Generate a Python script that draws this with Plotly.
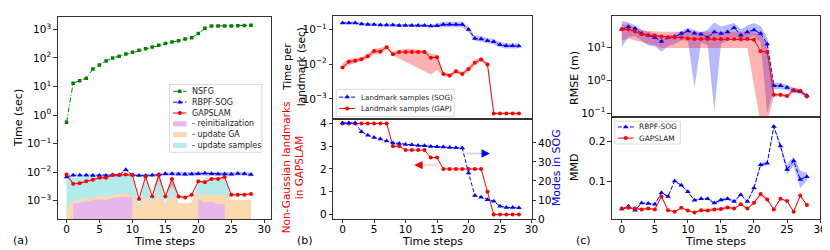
import plotly.graph_objects as go

# ---------------- data ----------------
steps = list(range(29))
x_ticks = [0, 5, 10, 15, 20, 25, 30]

# (a) total run time per step
nsfg_time = [0.56, 13, 16, 19.5, 41, 57, 78, 100, 115, 138, 158, 186, 210, 240, 280, 318,
             360, 400, 458, 510, 710, 1100, 1300, 1300, 1300, 1320, 1330, 1350, 1380]
sog_time = [0.0068, 0.0078, 0.0078, 0.0078, 0.0076, 0.0077, 0.0077, 0.0079, 0.0079, 0.0122,
            0.0079, 0.0077, 0.0077, 0.0078, 0.0082, 0.0087, 0.0087, 0.0086, 0.0085, 0.0086,
            0.0088, 0.0091, 0.0088, 0.0086, 0.0086, 0.0085, 0.0089, 0.0087, 0.0083]
sog_time_lo = [0.0063, 0.0073, 0.0073, 0.0073, 0.0071, 0.0072, 0.0072, 0.0073, 0.0073, 0.0113,
               0.0073, 0.0072, 0.0072, 0.0073, 0.0070, 0.0074, 0.0074, 0.0073, 0.0072, 0.0073,
               0.0075, 0.0077, 0.0075, 0.0073, 0.0073, 0.0072, 0.0076, 0.0074, 0.0071]
sog_time_hi = [0.0073, 0.0083, 0.0083, 0.0083, 0.0081, 0.0082, 0.0082, 0.0085, 0.0085, 0.0131,
               0.0085, 0.0082, 0.0082, 0.0083, 0.0096, 0.0102, 0.0102, 0.0101, 0.0099, 0.0101,
               0.0103, 0.0106, 0.0103, 0.0101, 0.0101, 0.0099, 0.0104, 0.0102, 0.0097]
gap_time = [0.0083, 0.0039, 0.0041, 0.0048, 0.0054, 0.0063, 0.0063, 0.0080, 0.0080, 0.0082,
            0.0080, 0.00115, 0.0070, 0.0014, 0.0080, 0.0014, 0.0058, 0.0014, 0.0013, 0.0016,
            0.0048, 0.0044, 0.0058, 0.0058, 0.0067, 0.0016, 0.0016, 0.0016, 0.0017]
gap_time_lo = [0.0077, 0.0036, 0.0038, 0.0045, 0.0050, 0.0059, 0.0059, 0.0074, 0.0074, 0.0076,
               0.0074, 0.00107, 0.0065, 0.0013, 0.0055, 0.0013, 0.0035, 0.0013, 0.0012, 0.0015,
               0.0045, 0.0041, 0.0054, 0.0054, 0.0062, 0.0015, 0.0015, 0.0015, 0.0016]
gap_time_hi = [0.0089, 0.0042, 0.0044, 0.0051, 0.0058, 0.0067, 0.0067, 0.0086, 0.0086, 0.0088,
               0.0086, 0.00123, 0.0075, 0.0015, 0.0095, 0.0015, 0.0072, 0.0015, 0.0014, 0.0017,
               0.0051, 0.0047, 0.0062, 0.0062, 0.0072, 0.0017, 0.0017, 0.0017, 0.0018]
# (a) GAPSLAM time breakdown (stacked)
t_reinit = [0, 0.0008, 0.00087, 0.00095, 0.00106, 0.00115, 0.00106, 0.00124, 0.00131, 0.00138,
            0.00131, 0, 0, 0, 0, 0, 0, 0, 0, 0, 0.00115, 0.00087, 0.00092, 0.00076, 0.00076,
            0, 0, 0, 0]
t_update_ga = [0.00058, 0.0002, 0.00019, 0.00026, 0.00025, 0.00031, 0.00025, 0.00034, 0.00041,
               0.00043, 0.00019, 0.00062, 0.0015, 0.00076, 0.00172, 0.00072, 0.00163, 0.0008,
               0.0008, 0.00087, 0.00066, 0.00076, 0.00071, 0.00087, 0.00087, 0.00106, 0.00106,
               0.00106, 0.00106]
t_update_samples = [0.0064, 0.0053, 0.0055, 0.0056, 0.0057, 0.0057, 0.0059, 0.0059, 0.0059,
                    0.0058, 0.0061, 0.00005, 0.0055, 0.00011, 0.0063, 0.00006, 0.0047, 0.00002,
                    0, 0, 0.0026, 0.0042, 0.0050, 0.0050, 0.0054, 0, 0, 0, 0]

# (b) time per landmark
lm_sog = [0.154, 0.154, 0.154, 0.144, 0.138, 0.138, 0.134, 0.134, 0.134, 0.13, 0.13, 0.13, 0.13,
          0.13, 0.125, 0.127, 0.138, 0.138, 0.138, 0.138, 0.1, 0.055, 0.053, 0.047, 0.044,
          0.036, 0.034, 0.034, 0.033]
lm_sog_lo = [0.142, 0.142, 0.142, 0.132, 0.127, 0.127, 0.123, 0.123, 0.123, 0.12, 0.12, 0.12,
             0.12, 0.12, 0.115, 0.112, 0.115, 0.115, 0.115, 0.115, 0.083, 0.046, 0.044, 0.039,
             0.037, 0.030, 0.028, 0.028, 0.028]
lm_sog_hi = [0.166, 0.166, 0.166, 0.156, 0.149, 0.149, 0.145, 0.145, 0.145, 0.14, 0.14, 0.14,
             0.14, 0.14, 0.135, 0.15, 0.165, 0.165, 0.165, 0.165, 0.12, 0.066, 0.064, 0.056,
             0.052, 0.043, 0.040, 0.040, 0.039]
lm_gap = [0.008, 0.0117, 0.0125, 0.0139, 0.0168, 0.0238, 0.0232, 0.0308, 0.0192, 0.0224, 0.0224,
          0.0224, 0.0224, 0.0224, 0.0152, 0.0158, 0.0052, 0.0047, 0.0062, 0.0052, 0.0072, 0.011,
          0.0136, 0.0098, 0.00038, 0.00038, 0.00038, 0.00038, 0.00038]
lm_gap_lo = [0.0072, 0.0093, 0.0105, 0.012, 0.0145, 0.0188, 0.0188, 0.0276, 0.0176, 0.0145,
             0.0117, 0.0094, 0.0076, 0.0062, 0.005, 0.0068, 0.0046, 0.004, 0.0055, 0.0046,
             0.0059, 0.0093, 0.012, 0.0087, 0.00036, 0.00036, 0.00036, 0.00036, 0.00036]
lm_gap_hi = [0.0105, 0.0145, 0.0145, 0.016, 0.02, 0.0276, 0.0294, 0.0335, 0.0228, 0.0259,
             0.0276, 0.0276, 0.0259, 0.0259, 0.02, 0.0188, 0.0059, 0.0052, 0.0072, 0.0059,
             0.0087, 0.0136, 0.0155, 0.0112, 0.0004, 0.0004, 0.0004, 0.0004, 0.0004]

# (b) counts
non_gaussian = [4, 4, 4, 4, 4, 4, 4, 4, 3, 3, 2.83, 2.83, 2.83, 2.83, 2.5, 2.5, 2, 2, 2, 2, 2,
                2, 2, 1, 0, 0, 0, 0, 0]
sog_modes = [50.5, 50.5, 50.5, 45.9, 44, 42.9, 42, 41, 40, 39.7, 39.2, 39, 38.6, 38.5, 38.1, 38,
             37.8, 37.6, 37.5, 37.3, 24.2, 12.4, 11.5, 10.2, 9.3, 6.8, 6.1, 6.1, 5.9]

# (c) RMSE
rmse_sog = [36.4, 43.7, 39.0, 27.1, 24.2, 20.6, 15.4, 20.6, 21.6, 27.1, 32.5, 27.7, 25.9, 20.6,
            30.4, 27.1, 30.4, 40.8, 24.2, 30.4, 34.8, 27.1, 13.1, 0.687, 0.687, 0.614, 0.49,
            0.457, 0.348]
rmse_sog_lo = [10.5, 20.6, 23, 16.5, 11.7, 11.2, 7.5, 11.2, 13, 16.5, 16.5, 0.61, 14.7, 11.7,
               0.11, 13, 16.5, 23, 14.7, 19, 23, 14.7, 0.1, 0.55, 0.55, 0.51, 0.41, 0.39, 0.3]
rmse_sog_hi = [64, 60, 48, 35, 30, 27.8, 22, 24, 26, 32.5, 40, 35, 29, 36, 60, 44, 51, 57, 36,
               48, 57, 46, 20.6, 0.86, 0.86, 0.73, 0.61, 0.55, 0.37]
rmse_gap = [36.4, 36.4, 31.1, 25.9, 24.2, 23.2, 22.1, 20.6, 20.6, 20.6, 19.3, 18.4, 18.4, 18.4,
            18.4, 18.4, 18.4, 18.4, 18.4, 18.4, 17.6, 7.8, 7.4, 0.366, 0.366, 0.334, 0.51, 0.49,
            0.325]
rmse_gap_lo = [16.5, 19.3, 16.5, 14.7, 13.1, 11.7, 9.8, 9.8, 9.8, 9.8, 9.8, 9.8, 9.8, 9.8, 9.8,
               9.8, 9.8, 9.8, 9.8, 9.8, 0.77, 0.05, 0.05, 0.325, 0.325, 0.297, 0.44, 0.42, 0.297]
rmse_gap_hi = [51, 51, 40.8, 34.8, 32.5, 31, 31, 31, 31, 31, 31, 31, 31, 31, 31, 31, 31, 31, 31,
               31, 29, 25.9, 11.7, 0.41, 0.41, 0.37, 0.57, 0.55, 0.366]

# (c) MMD
mmd_sog = [0.0287, 0.036, 0.026, 0.044, 0.043, 0.041, 0.07, 0.061, 0.1, 0.089, 0.073, 0.051,
           0.055, 0.055, 0.044, 0.052, 0.055, 0.048, 0.065, 0.048, 0.082, 0.141, 0.145, 0.238,
           0.189, 0.129, 0.151, 0.104, 0.111]
mmd_sog_err = [0.002, 0.002, 0.002, 0.002, 0.002, 0.002, 0.002, 0.002, 0.002, 0.002, 0.002,
               0.002, 0.002, 0.002, 0.002, 0.004, 0.004, 0.004, 0.002, 0.002, 0.004, 0.005,
               0.005, 0.005, 0.006, 0.012, 0.012, 0.022, 0.01]
mmd_gap = [0.030, 0.032, 0.030, 0.028, 0.030, 0.028, 0.061, 0.026, 0.022, 0.032, 0.025, 0.020,
           0.026, 0.025, 0.028, 0.029, 0.033, 0.030, 0.041, 0.030, 0.045, 0.067, 0.053, 0.028,
           0.055, 0.049, 0.022, 0.063, 0.039]
mmd_gap_err = [0.002, 0.002, 0.002, 0.002, 0.002, 0.002, 0.003, 0.002, 0.002, 0.002, 0.002,
               0.002, 0.004, 0.004, 0.004, 0.004, 0.004, 0.002, 0.002, 0.002, 0.003, 0.005,
               0.005, 0.002, 0.002, 0.002, 0.002, 0.002, 0.002]

# ---------------- style ----------------
FONT = "DejaVu Sans"
BLUE, RED, GREEN = "#0000ff", "#ff0000", "#008000"
C_REINIT, C_GA, C_SAMPLES = "#e7b6ec", "#fdd9b0", "#b3ebeb"
DASH = "4px,2px"
DASHDOT = "5px,2px,1px,2px"
W, H = 830, 250
TICK_FS = 10.5

fig = go.Figure()


def px_x(p):
    return p / W


def px_y(p):
    return 1 - p / H


def band(x, lo, hi, color, xa, ya):
    xs = list(x) + list(x)[::-1]
    ys = list(hi) + list(lo)[::-1]
    fig.add_trace(go.Scatter(x=xs, y=ys, fill="toself", fillcolor=color, mode="lines",
                             line=dict(width=0), hoverinfo="skip", showlegend=False,
                             xaxis=xa, yaxis=ya))


def line(x, y, color, dash, symbol, size, xa, ya):
    fig.add_trace(go.Scatter(x=x, y=y, mode="lines+markers",
                             line=dict(color=color, width=1, dash=dash),
                             marker=dict(symbol=symbol, size=size, color=color, line=dict(width=0)),
                             showlegend=False, xaxis=xa, yaxis=ya))


def area(x, top, floor, color, xa, ya):
    xs = [x[0]] + list(x) + [x[-1]]
    ys = [floor] + list(top) + [floor]
    fig.add_trace(go.Scatter(x=xs, y=ys, fill="toself", fillcolor=color, mode="lines",
                             line=dict(width=0), hoverinfo="skip", showlegend=False,
                             xaxis=xa, yaxis=ya))


# ---------------- (a) ----------------
FLOOR = 1e-6
cum_reinit = list(t_reinit)
cum_ga = [a + b for a, b in zip(cum_reinit, t_update_ga)]
cum_samples = [a + b for a, b in zip(cum_ga, t_update_samples)]
area(steps, cum_samples, FLOOR, C_SAMPLES, "x", "y")
area(steps, cum_ga, FLOOR, C_GA, "x", "y")
run = []
for i, v in enumerate(cum_reinit + [0]):
    if v > 0:
        run.append(i)
    elif run:
        area([steps[j] for j in run], [cum_reinit[j] for j in run], FLOOR, C_REINIT, "x", "y")
        run = []

band(steps, gap_time_lo, gap_time_hi, "rgba(255,0,0,0.3)", "x", "y")
band(steps, sog_time_lo, sog_time_hi, "rgba(0,0,255,0.2)", "x", "y")
line(steps, nsfg_time, GREEN, DASHDOT, "square", 3.5, "x", "y")
line(steps, sog_time, BLUE, DASH, "triangle-up", 5, "x", "y")
line(steps, gap_time, RED, "solid", "circle", 4, "x", "y")

# ---------------- (b) top ----------------
band(steps, lm_sog_lo, lm_sog_hi, "rgba(0,0,255,0.25)", "x2", "y2")
line(steps, lm_sog, BLUE, DASH, "triangle-up", 5, "x2", "y2")
band(steps, lm_gap_lo, lm_gap_hi, "rgba(255,0,0,0.3)", "x2", "y2")
line(steps, lm_gap, RED, "solid", "circle", 4, "x2", "y2")

# ---------------- (b) bottom ----------------
line(steps, sog_modes, BLUE, DASH, "triangle-up", 5, "x3", "y4")
line(steps, non_gaussian, RED, "solid", "circle", 4, "x3", "y3")

# ---------------- (c) top ----------------
band(steps, rmse_sog_lo, rmse_sog_hi, "rgba(0,0,255,0.28)", "x5", "y5")
band(steps, rmse_gap_lo, rmse_gap_hi, "rgba(255,0,0,0.3)", "x5", "y5")
line(steps, rmse_sog, BLUE, DASH, "triangle-up", 5, "x5", "y5")
line(steps, rmse_gap, RED, "solid", "circle", 4, "x5", "y5")

# ---------------- (c) bottom ----------------
band(steps, [v - e for v, e in zip(mmd_sog, mmd_sog_err)],
     [v + e for v, e in zip(mmd_sog, mmd_sog_err)], "rgba(0,0,255,0.28)", "x6", "y6")
band(steps, [v - e for v, e in zip(mmd_gap, mmd_gap_err)],
     [v + e for v, e in zip(mmd_gap, mmd_gap_err)], "rgba(255,0,0,0.25)", "x6", "y6")
line(steps, mmd_sog, BLUE, DASH, "triangle-up", 5, "x6", "y6")
line(steps, mmd_gap, RED, "solid", "circle", 4, "x6", "y6")

# ---------------- manual legends (overlay axis in pixel units) ----------------
annotations = []


def leg_box(x0, y0, x1, y1):
    fig.add_trace(go.Scatter(x=[x0, x1, x1, x0, x0], y=[y0, y0, y1, y1, y0], fill="toself",
                             fillcolor="rgba(255,255,255,0.85)", mode="lines",
                             line=dict(color="#cfcfcf", width=0.8), hoverinfo="skip",
                             showlegend=False, xaxis="x7", yaxis="y7"))


def leg_line(x0, x1, y, color, dash, symbol, size, label, fsize):
    fig.add_trace(go.Scatter(x=[x0, x1], y=[y, y], mode="lines",
                             line=dict(color=color, width=1, dash=dash), hoverinfo="skip",
                             showlegend=False, xaxis="x7", yaxis="y7"))
    fig.add_trace(go.Scatter(x=[(x0 + x1) / 2], y=[y], mode="markers",
                             marker=dict(symbol=symbol, size=size, color=color, line=dict(width=0)),
                             hoverinfo="skip", showlegend=False, xaxis="x7", yaxis="y7"))
    annotations.append(dict(x=x1 + 3.5, y=y, xref="x7", yref="y7", text=label, showarrow=False,
                            xanchor="left", yanchor="middle",
                            font=dict(family=FONT, size=fsize, color="#222")))


def leg_patch(x0, x1, y, color, label, fsize):
    fig.add_trace(go.Scatter(x=[x0, x1, x1, x0, x0], y=[y - 2.6, y - 2.6, y + 2.6, y + 2.6, y - 2.6],
                             fill="toself", fillcolor=color, mode="lines", line=dict(width=0),
                             hoverinfo="skip", showlegend=False, xaxis="x7", yaxis="y7"))
    annotations.append(dict(x=x1 + 3.5, y=y, xref="x7", yref="y7", text=label, showarrow=False,
                            xanchor="left", yanchor="middle",
                            font=dict(family=FONT, size=fsize, color="#222")))


leg_box(163, 77, 256, 147)
leg_line(166.5, 180, 84, GREEN, DASHDOT, "square", 3.5, "NSFG", 8)
leg_line(166.5, 180, 95.2, BLUE, DASH, "triangle-up", 5, "RBPF-SOG", 8)
leg_line(166.5, 180, 106.4, RED, "solid", "circle", 4, "GAPSLAM", 8)
leg_patch(166.5, 180, 117.6, C_REINIT, "- reinitialization", 8)
leg_patch(166.5, 180, 128.8, C_GA, "- update GA", 8)
leg_patch(166.5, 180, 140, C_SAMPLES, "- update samples", 8)

leg_box(331, 82, 450, 110)
leg_line(334, 350, 90, BLUE, DASH, "triangle-up", 5, "Landmark samples (SOG)", 7.2)
leg_line(334, 350, 101.7, RED, "solid", "circle", 4, "Landmark samples (GAP)", 7.2)

leg_box(612, 115, 678, 138.5)
leg_line(615, 631, 120.8, BLUE, DASH, "triangle-up", 5, "RBPF-SOG", 7.4)
leg_line(615, 631, 132.3, RED, "solid", "circle", 4, "GAPSLAM", 7.4)

# ---------------- text ----------------
def txt(x, y, s, color="black", angle=0, size=11):
    annotations.append(dict(x=px_x(x), y=px_y(y), xref="paper", yref="paper", text=s,
                            showarrow=False, textangle=angle, xanchor="center", yanchor="middle",
                            font=dict(family=FONT, size=size, color=color)))


txt(11, 111, "Time (sec)", angle=-90)
txt(288.5, 59, "Time per<br>landmark (sec)", angle=-90, size=10.5)
txt(287, 163, "Non-Gaussian landmarks<br>in GAPSLAM", color=RED, angle=-90, size=10.5)
txt(553, 163, "Modes in SOG", color=BLUE, angle=-90)
txt(572, 70, "RMSE (m)", angle=-90)
txt(572, 163, "MMD", angle=-90)
for cx in (157.5, 428, 714):
    txt(cx, 239, "Time steps")
txt(13, 238, "(a)")
txt(300, 238, "(b)")
txt(580, 238, "(c)")

# arrows in (b) bottom
annotations.append(dict(x=23.4, y=34.4, ax=22.5, ay=34.4, xref="x3", yref="y4", axref="x3",
                        ayref="y4", text="", showarrow=True, arrowhead=2, arrowsize=1.3,
                        arrowwidth=1.3, arrowcolor=BLUE))
annotations.append(dict(x=11.37, y=2.17, ax=12.3, ay=2.17, xref="x3", yref="y3", axref="x3",
                        ayref="y3", text="", showarrow=True, arrowhead=2, arrowsize=1.3,
                        arrowwidth=1.3, arrowcolor=RED))
shapes = [
    dict(type="line", xref="x3", yref="y4", x0=19.7, x1=22.6, y0=34.4, y1=34.4,
         line=dict(color="rgba(90,130,255,0.35)", width=1.5)),
    dict(type="line", xref="x3", yref="y3", x0=15.0, x1=12.2, y0=2.17, y1=2.17,
         line=dict(color="rgba(255,90,90,0.3)", width=1.5)),
]

# ---------------- axes ----------------
def axis(**kw):
    base = dict(showline=True, linecolor="#333", linewidth=0.8, mirror=True, ticks="outside",
                ticklen=3.5, tickwidth=0.8, tickcolor="#333", showgrid=False, zeroline=False,
                tickfont=dict(family=FONT, size=TICK_FS, color="black"))
    base.update(kw)
    return base


def log_ticks(lo, hi):
    vals, texts = [], []
    for e in range(lo, hi + 1):
        vals.append(10.0 ** e)
        texts.append("10<sup>" + (str(e) if e >= 0 else "\u2212" + str(-e)) + "</sup>")
    return vals, texts


tv_a, tt_a = log_ticks(-3, 3)
tv_b, tt_b = log_ticks(-3, -1)
tv_c, tt_c = log_ticks(-1, 1)

xdom_a = [px_x(50), px_x(265)]
xdom_b = [px_x(328), px_x(528)]
xdom_c = [px_x(609), px_x(819)]

fig.update_layout(
    width=W, height=H, margin=dict(l=0, r=0, t=0, b=0),
    paper_bgcolor="white", plot_bgcolor="rgba(0,0,0,0)",
    font=dict(family=FONT, size=11, color="black"),
    showlegend=False,
    xaxis=axis(domain=xdom_a, range=[-1.36, 31.0], anchor="y", tickvals=x_ticks,
               ticklabelstandoff=-3),
    yaxis=axis(domain=[px_y(216), px_y(7)], type="log", range=[-3.644, 3.44], anchor="x",
               tickvals=tv_a, ticktext=tt_a),
    xaxis2=axis(domain=xdom_b, range=[-1.48, 30.0], anchor="y2", ticks="",
                showticklabels=False),
    yaxis2=axis(domain=[px_y(112.5), px_y(6)], type="log", range=[-3.578, -0.609], anchor="x2",
                tickvals=tv_b, ticktext=tt_b),
    xaxis3=axis(domain=xdom_b, range=[-1.48, 30.0], anchor="y3", tickvals=x_ticks,
                ticklabelstandoff=-3),
    yaxis3=axis(domain=[px_y(216), px_y(112.5)], range=[-0.2, 4.2], anchor="x3",
                tickvals=[0, 1, 2, 3, 4]),
    yaxis4=axis(overlaying="y3", side="right", range=[0, 52.6], anchor="x3", mirror=False,
                tickvals=[0, 10, 20, 30, 40]),
    xaxis5=axis(domain=xdom_c, range=[-1.5, 30.0], anchor="y5", ticks="",
                showticklabels=False),
    yaxis5=axis(domain=[px_y(110.7), px_y(6)], type="log", range=[-1.12, 1.975], anchor="x5",
                tickvals=tv_c, ticktext=tt_c),
    xaxis6=axis(domain=xdom_c, range=[-1.5, 30.0], anchor="y6", tickvals=x_ticks,
                ticklabelstandoff=-3),
    yaxis6=axis(domain=[px_y(216), px_y(110.7)], range=[0.0034, 0.262], anchor="x6",
                tickvals=[0.1, 0.2]),
    xaxis7=dict(domain=[0, 1], range=[0, W], visible=False, fixedrange=True, anchor="y7"),
    yaxis7=dict(domain=[0, 1], range=[H, 0], visible=False, fixedrange=True, anchor="x7"),
    annotations=annotations,
    shapes=shapes,
)

fig.write_html("out.html")
